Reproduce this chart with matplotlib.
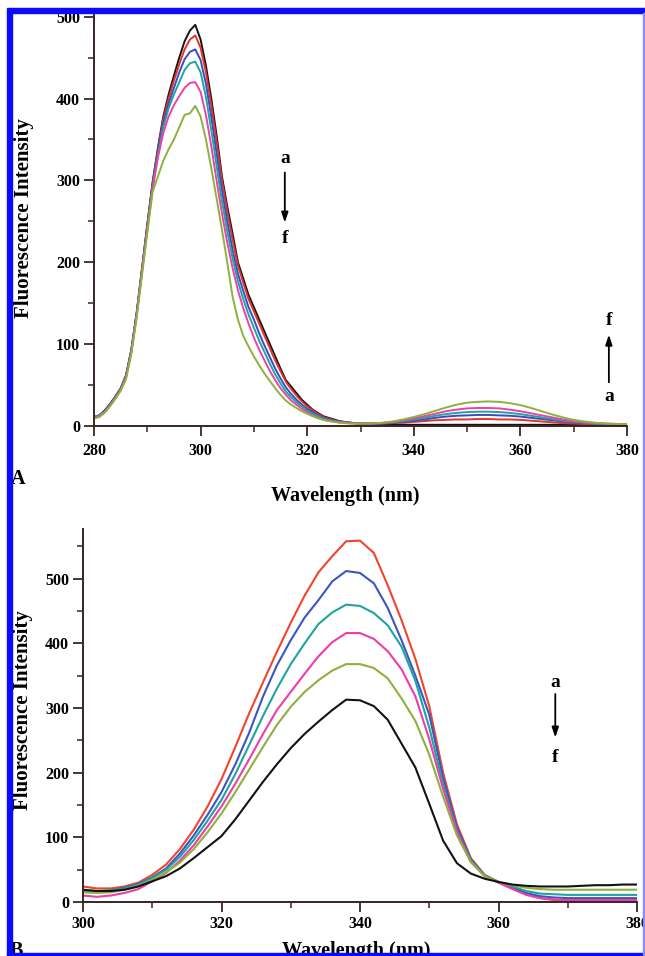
import numpy as np
import matplotlib
matplotlib.use("Agg")
import matplotlib.pyplot as plt
from matplotlib.patches import Rectangle

# ---------------- Panel A data (emission, 280-380 nm) ----------------
wl_a = np.concatenate([np.arange(280, 331, 1), np.arange(332, 381, 2)])

a_black = [10, 13, 19, 27, 36, 46, 62, 93, 138, 192,
           246, 298, 340, 378, 405, 428, 450, 470, 483, 490,
           472, 440, 400, 355, 305, 268, 235, 200, 180, 160,
           145, 130, 115, 100, 85, 70, 56, 48, 40, 32,
           26, 20, 16, 12, 10, 8, 6, 5, 4, 3.5, 3,
           2.5, 2, 1.5, 1.5, 1.5, 1.5, 1.5, 1.5, 1.5, 1.5, 1.5, 1.5, 1.5,
           1.5, 1.5, 1.5, 1.5, 1.5, 1.5, 1.5, 1.5, 1.5, 1.5, 1.5, 1.5]
a_red = [11, 13, 18, 26, 35, 45, 61, 92, 137, 191,
         245, 296, 338, 375, 400, 422, 442, 460, 472, 477,
         462, 432, 392, 348, 300, 262, 228, 196, 175, 155,
         140, 125, 110, 95, 80, 67, 54, 45, 37, 30,
         24, 19, 15, 11, 9, 7, 5.5, 4.5, 4, 3.5, 3,
         3, 3, 3.5, 4, 5, 6, 7, 7.5, 8, 8, 8.5, 8.5, 8,
         8, 7.5, 6.5, 5.5, 4.5, 3.5, 3, 2.5, 2, 2, 1.5, 1.5]
a_blue = [11, 13, 18, 26, 35, 45, 60, 92, 137, 190,
          244, 295, 336, 370, 394, 413, 432, 448, 457, 460,
          447, 418, 378, 333, 288, 250, 215, 186, 165, 145,
          130, 113, 98, 84, 70, 58, 47, 39, 32, 26,
          21, 17, 13, 10, 8, 6.5, 5, 4.5, 4, 3.5, 3,
          3, 3, 4, 5, 6.5, 8, 10, 11.5, 12.5, 13, 13.5, 13.5, 13,
          12.5, 11.5, 10, 8.5, 7, 5.5, 4.5, 3.5, 3, 2.5, 2, 2]
a_teal = [11, 13, 18, 26, 35, 45, 60, 91, 136, 189,
          242, 292, 332, 365, 388, 405, 420, 435, 443, 445,
          432, 402, 362, 318, 275, 238, 205, 177, 155, 136,
          120, 104, 90, 76, 63, 52, 42, 35, 29, 24,
          19, 15, 12, 9, 7, 6, 5, 4.5, 4, 3.5, 3,
          3, 3.5, 4.5, 6, 8, 10, 12.5, 14.5, 16, 17, 17.5, 17.5, 17,
          16, 14.5, 12.5, 10.5, 8.5, 6.5, 5, 4, 3, 2.5, 2, 2]
a_magenta = [10, 12, 17, 25, 34, 44, 59, 90, 135, 188,
             240, 290, 328, 358, 378, 392, 403, 413, 419, 420,
             408, 380, 342, 300, 260, 224, 193, 166, 144, 125,
             108, 93, 80, 67, 56, 46, 38, 31, 26, 21,
             17, 13, 10, 8, 6.5, 5.5, 4.5, 4, 3.5, 3, 3,
             3, 3.5, 5, 7, 9.5, 12, 15, 18, 20, 21.5, 22, 22, 21.5,
             20, 18, 15.5, 13, 10.5, 8, 6, 4.5, 3.5, 3, 2.5, 2]
a_green = [9, 11, 16, 24, 33, 43, 57, 88, 132, 184,
           236, 286, 305, 324, 338, 350, 365, 380, 382, 391,
           378, 350, 315, 278, 240, 200, 158, 130, 110, 97,
           85, 74, 64, 55, 46, 38, 31, 26, 22, 18,
           15, 12, 9.5, 7.5, 6, 5, 4, 3.5, 3, 3, 3,
           3, 4, 5.5, 8, 11, 14.5, 18.5, 22.5, 26, 28.5, 29.5, 30, 29.5,
           28, 25.5, 22, 18, 14, 10.5, 7.5, 5.5, 4, 3, 2.5, 2]

series_a = [a_black, a_red, a_blue, a_teal, a_magenta, a_green]
colors_a = ["#141414", "#e5322b", "#3a4dbf", "#1fa3a3", "#ee40a6", "#8cb23e"]

# ---------------- Panel B data (300-380 nm) ----------------
wl_b = np.arange(300, 381, 2)

b_red = [24, 21, 21, 24, 30, 42, 58, 82, 112, 148,
         190, 240, 292, 340, 387, 432, 474, 510, 535, 558,
         559, 540, 490, 436, 376, 303, 200, 120, 68, 42,
         31, 22, 12, 6, 3, 1.5, 1, 1, 1, 1, 1]
b_blue = [17, 16, 18, 22, 28, 38, 52, 75, 103, 135,
          170, 213, 262, 318, 366, 405, 440, 467, 496, 512,
          509, 493, 455, 405, 350, 290, 192, 115, 66, 41,
          31, 23, 14, 9, 7, 6, 6, 6, 6, 6, 6]
b_teal = [18, 17, 18, 21, 27, 37, 50, 70, 96, 126,
          158, 198, 243, 288, 330, 368, 400, 430, 448, 460,
          458, 447, 428, 395, 342, 270, 182, 110, 64, 41,
          31, 24, 17, 13, 12, 11, 11, 11, 11, 11, 11]
b_magenta = [10, 8, 10, 14, 20, 32, 45, 64, 88, 117,
             148, 183, 221, 260, 297, 325, 353, 380, 402, 416,
             416, 407, 388, 360, 318, 252, 175, 108, 62, 40,
             30, 20, 11, 6, 4, 3, 3, 3, 3, 3, 3]
b_green = [15, 14, 15, 19, 25, 34, 46, 61, 82, 108,
           137, 170, 205, 240, 274, 302, 325, 343, 358, 368,
           368, 362, 346, 315, 280, 228, 163, 103, 62, 40,
           31, 26, 22, 20, 19, 19, 19, 19, 19, 19, 19]
b_black = [19, 17, 17, 19, 24, 32, 40, 52, 68, 85,
           102, 128, 157, 186, 213, 238, 260, 279, 297, 313,
           312, 303, 282, 245, 208, 152, 95, 60, 44, 36,
           31, 27, 25, 24, 24, 24, 25, 26, 26, 27, 27]

series_b = [b_red, b_blue, b_teal, b_magenta, b_green, b_black]
colors_b = ["#f0452b", "#3b55c2", "#1fa3a0", "#f03ca8", "#8fb03c", "#121212"]

xticks_a = [280, 300, 320, 340, 360, 380]
yticks_a = [0, 100, 200, 300, 400, 500]
xticks_b = [300, 320, 340, 360, 380]
yticks_b = [0, 100, 200, 300, 400, 500]

W, H = 645, 956
SERIF = ["Liberation Serif", "DejaVu Serif"]
SPINE = "#3a2325"

fig = plt.figure(figsize=(W / 100, H / 100), dpi=100)
fig.patch.set_facecolor("white")


def frac(x, y):
    return x / W, 1 - y / H


def style_axes(ax, xt, yt, xminor, yminor):
    for side in ("top", "right"):
        ax.spines[side].set_visible(False)
    for side in ("left", "bottom"):
        ax.spines[side].set_color(SPINE)
        ax.spines[side].set_linewidth(1.4)
    ax.set_xticks(xt)
    ax.set_yticks(yt)
    ax.set_xticks(xminor, minor=True)
    ax.set_yticks(yminor, minor=True)
    ax.tick_params(which="major", direction="out", length=7, width=1.3,
                   color=SPINE, pad=3)
    ax.tick_params(which="minor", direction="out", length=4, width=1.1,
                   color=SPINE)
    for lab in ax.get_xticklabels() + ax.get_yticklabels():
        lab.set_fontfamily(SERIF)
        lab.set_fontweight("bold")
        lab.set_fontsize(11.5)
    ax.patch.set_alpha(0)


# ---------- Panel A ----------
axA = fig.add_axes([94 / W, 1 - 426 / H, 533 / W, 411 / H])
for ys, c in zip(series_a, colors_a):
    axA.plot(wl_a, ys, color=c, lw=1.4, solid_joinstyle="round")
axA.set_xlim(280, 380)
axA.set_ylim(0, 502)
style_axes(axA, xticks_a, yticks_a, np.arange(290, 380, 20), np.arange(50, 500, 100))
axA.tick_params(axis="x", which="both", pad=5)

ann = dict(fontfamily=SERIF, fontweight="bold", fontsize=14, ha="center", va="center")
arrow = dict(arrowstyle="-|>,head_length=0.6,head_width=0.2", color="black", lw=1.3)
axA.text(315.8, 327, "a", **ann)
axA.text(315.8, 229, "f", **ann)
axA.annotate("", xy=(315.8, 245), xytext=(315.8, 313), arrowprops=arrow)
axA.text(376.6, 129, "f", **ann)
axA.text(376.6, 36, "a", **ann)
axA.annotate("", xy=(376.6, 115), xytext=(376.6, 50), arrowprops=arrow)

lab = dict(fontfamily=SERIF, fontweight="bold", fontsize=14.5)
ylab = dict(fontfamily=SERIF, fontweight="bold", fontsize=15)
fig.text(*frac(345, 496), "Wavelength (nm)", ha="center", va="center", **lab)
fig.text(*frac(24, 218), "Fluorescence Intensity", ha="center", va="center",
         rotation=90, **ylab)
fig.text(*frac(11, 479), "A", ha="left", va="center", **lab)

# ---------- Panel B ----------
axB = fig.add_axes([83 / W, 1 - 902 / H, 554 / W, 373 / H])
for ys, c in zip(series_b, colors_b):
    axB.plot(wl_b, ys, color=c, lw=1.5, solid_joinstyle="round")
axB.set_xlim(300, 380)
axB.set_ylim(0, 577)
style_axes(axB, xticks_b, yticks_b, np.arange(310, 380, 20), np.arange(50, 577, 100))
axB.tick_params(axis="x", which="both", pad=3)

axB.text(368.2, 340, "a", **ann)
axB.text(368.2, 224, "f", **ann)
axB.annotate("", xy=(368.2, 250), xytext=(368.2, 326), arrowprops=arrow)

fig.text(*frac(23, 710), "Fluorescence Intensity", ha="center", va="center",
         rotation=90, **ylab)
fig.text(*frac(356, 941), "Wavelength (nm)", ha="center", va="top", **lab)
fig.text(*frac(10, 941), "B", ha="left", va="top", **lab)

# ---------- blue page frame ----------
frame = "#0a0aff"
fig.patches.append(Rectangle(frac(7, 13), (W - 7) / W, 5 / H,
                             transform=fig.transFigure, color=frame, zorder=10))
fig.patches.append(Rectangle(frac(7, 955), 5 / W, 942 / H,
                             transform=fig.transFigure, color=frame, zorder=10))
fig.patches.append(Rectangle(frac(7, 955), (W - 7) / W, 1.6 / H,
                             transform=fig.transFigure, color=frame, zorder=10))
fig.patches.append(Rectangle(frac(643, 955), 1.5 / W, 942 / H,
                             transform=fig.transFigure, color="#8a8aff", zorder=10))

fig.savefig("out.png", dpi=100, facecolor="white")
